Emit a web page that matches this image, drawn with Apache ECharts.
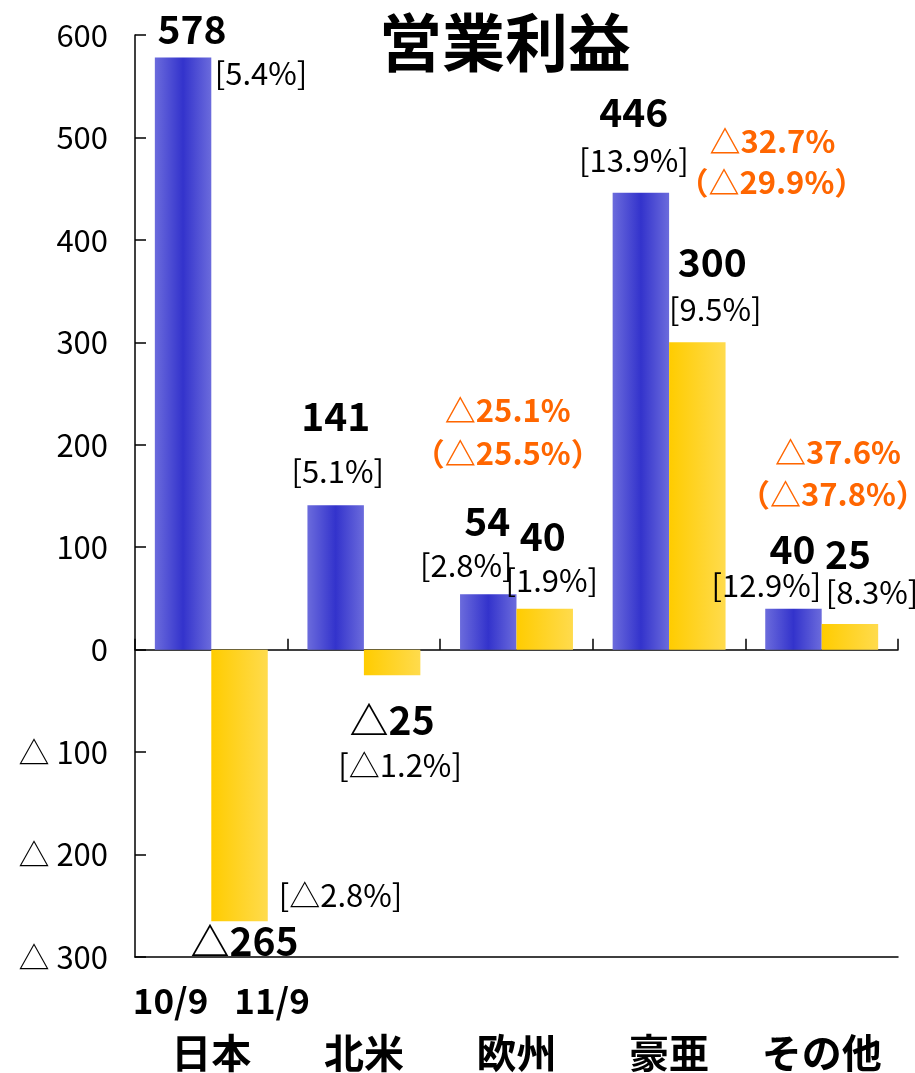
<!DOCTYPE html>
<html>
<head>
<meta charset="utf-8">
<script src="https://cdn.jsdelivr.net/npm/echarts@6/dist/echarts.min.js"></script>
<style>
html,body{margin:0;padding:0;background:#fff;}
#c{width:915px;height:1073px;}
</style>
</head>
<body>
<div id="c"></div>
<script>
// ---- data ----
const categories = ['日本', '北米', '欧州', '豪亜', 'その他'];
const seriesNames = ['10/9', '11/9'];
const profit2010 = [578, 141, 54, 446, 40];
const profit2011 = [-265, -25, 40, 300, 25];
const margin2010 = ['5.4%', '5.1%', '2.8%', '13.9%', '12.9%'];
const margin2011 = ['△2.8%', '△1.2%', '1.9%', '9.5%', '8.3%'];
const changeRate = [null, null, '△25.1%', '△32.7%', '△37.6%'];
const changeRateLocal = [null, null, '（△25.5%）', '（△29.9%）', '（△37.8%）'];
const titleText = '営業利益';

// ---- layout (label offsets in px from bar end) ----
const blueValueOff = [[9, -28], [0, -89], [-1, -73], [-7, -81], [-1, -60]];
const blueMarginOff = [[78, 16], [2, -34], [-22, -29], [-7, -33], [-27, -23]];
const yellowValueOff = [[5, 20], [0, 45], [-2, -73], [15, -80], [-2, -70]];
const yellowMarginOff = [[101, -26], [8, 90], [7, -28], [18, -33], [22, -32]];
const changeOff = [null, null, [-37, -198], [75, -201], [-12, -172]];
const changeLocalOff = [null, null, [-37, -155], [74, -160], [-17, -130]];

const FONT = '"Noto Sans CJK JP", "Liberation Sans", sans-serif';

function fmtVal(v) { return v < 0 ? '△' + (-v) : String(v); }

function mp(cat, val, text, off, style) {
  return {
    coord: [cat, val],
    symbol: 'rect',
    symbolSize: 0,
    itemStyle: { color: 'transparent' },
    label: Object.assign({
      show: true,
      position: 'inside',
      offset: off,
      formatter: text,
      color: '#000'
    }, style)
  };
}

const valueStyle = { fontFamily: FONT, fontWeight: 'bold', fontSize: 39 };
const marginStyle = { fontFamily: FONT, fontWeight: 'normal', fontSize: 31 };
const changeStyle = { fontFamily: FONT, fontWeight: 'bold', fontSize: 31, color: '#ff6600' };

const blueMarks = [];
const yellowMarks = [];
categories.forEach((c, i) => {
  blueMarks.push(mp(c, profit2010[i], fmtVal(profit2010[i]), blueValueOff[i], valueStyle));
  blueMarks.push(mp(c, profit2010[i], '[' + margin2010[i] + ']', blueMarginOff[i], marginStyle));
  yellowMarks.push(mp(c, profit2011[i], fmtVal(profit2011[i]), yellowValueOff[i], valueStyle));
  yellowMarks.push(mp(c, profit2011[i], '[' + margin2011[i] + ']', yellowMarginOff[i], marginStyle));
  if (changeRate[i]) {
    yellowMarks.push(mp(c, profit2011[i], changeRate[i], changeOff[i], changeStyle));
    yellowMarks.push(mp(c, profit2011[i], changeRateLocal[i], changeLocalOff[i], changeStyle));
  }
});

const blueGrad = new echarts.graphic.LinearGradient(0, 0, 1, 0, [
  { offset: 0, color: '#6b6bdc' },
  { offset: 0.5, color: '#3333cc' },
  { offset: 1, color: '#6b6bdc' }
]);
const yellowGrad = new echarts.graphic.LinearGradient(0, 0, 1, 0, [
  { offset: 0, color: '#ffcc00' },
  { offset: 1, color: '#ffdb4d' }
]);

const chart = echarts.init(document.getElementById('c'), null, { renderer: 'canvas' });
chart.setOption({
  animation: false,
  backgroundColor: '#fff',
  title: {
    text: titleText,
    left: 374,
    top: 6,
    textStyle: { fontFamily: FONT, fontWeight: 'bold', fontSize: 63, color: '#000' }
  },
  grid: { left: 135, right: 17, top: 35, bottom: 114, containLabel: false },
  xAxis: [
    {
      type: 'category',
      data: categories,
      position: 'bottom',
      axisLine: { onZero: true, lineStyle: { color: '#000', width: 1.5 } },
      axisTick: { show: true, inside: true, length: 11, lineStyle: { color: '#000', width: 1.5 } },
      axisLabel: { show: false },
      splitLine: { show: false }
    },
    {
      type: 'category',
      data: categories,
      position: 'bottom',
      axisLine: { show: true, onZero: false, lineStyle: { color: '#000', width: 1.5 } },
      axisTick: { show: false },
      splitLine: { show: false },
      axisLabel: {
        show: true,
        margin: 18,
        interval: 0,
        formatter: function (v, idx) {
          if (idx === 0) {
            return '{p|}{s|' + seriesNames[0] + '}{g|}{s|' + seriesNames[1] + '}\n{c|' + v + '}';
          }
          return '{s| }\n{c|' + v + '}';
        },
        rich: {
          p: { width: 20, height: 52 },
          g: { width: 26, height: 52 },
          s: { fontFamily: FONT, fontWeight: 'bold', fontSize: 35, color: '#000', lineHeight: 52 },
          c: { fontFamily: FONT, fontWeight: 'bold', fontSize: 40, color: '#000', lineHeight: 52 }
        }
      }
    }
  ],
  yAxis: {
    type: 'value',
    min: -300,
    max: 600,
    interval: 100,
    axisLine: { show: true, lineStyle: { color: '#000', width: 1.5 } },
    axisTick: { show: true, inside: true, length: 11, lineStyle: { color: '#000', width: 1.5 } },
    splitLine: { show: false },
    axisLabel: {
      margin: 27,
      color: '#000',
      fontSize: 31,
      fontFamily: FONT,
      formatter: function (v) { return v < 0 ? '△ ' + (-v) : String(v); }
    }
  },
  series: [
    {
      name: seriesNames[0],
      type: 'bar',
      xAxisIndex: 0,
      data: profit2010,
      barWidth: '37%',
      barGap: '0%',
      itemStyle: { color: blueGrad },
      markPoint: { data: blueMarks, animation: false, silent: true }
    },
    {
      name: seriesNames[1],
      type: 'bar',
      xAxisIndex: 0,
      data: profit2011,
      barWidth: '37%',
      barGap: '0%',
      itemStyle: { color: yellowGrad },
      markPoint: { data: yellowMarks, animation: false, silent: true }
    }
  ]
});
</script>
</body>
</html>
